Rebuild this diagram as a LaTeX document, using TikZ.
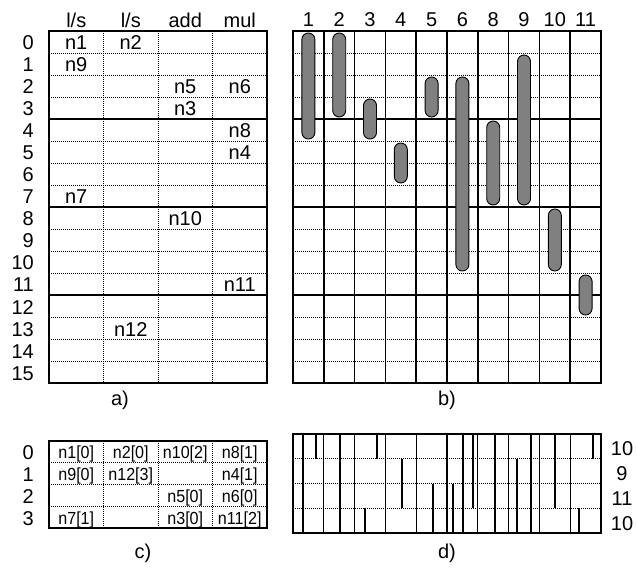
\documentclass[tikz,border=0pt]{standalone}
\usepackage{fontspec}
\setmainfont{Liberation Sans}
\newfontfamily\condfont[FakeStretch=0.92]{Liberation Sans}
\usepackage{tikz}
\usetikzlibrary{positioning}

\tikzset{
  frame/.style={line width=2.6pt},
  thick rule/.style={line width=2.4pt},
  fine rule/.style={line width=0.7pt, dash pattern=on 1.2pt off 0.8pt},
  col rule/.style={line width=1.6pt},
  reg rule/.style={line width=1.1pt},
  life/.style={draw=black, line width=0.9pt, fill=black!50, rounded corners=6.5pt},
  seg/.style={line width=2.8pt},
  lbl/.style={font=\fontsize{20}{20}\selectfont, inner sep=0pt},
  entry/.style={font=\condfont\fontsize{17.5}{17.5}\selectfont, inner sep=0pt},
}

\begin{document}
\begin{tikzpicture}[x=1pt,y=-1pt]
        % Define table parameters
        \def\rowh{22}
        \def\tabtop{31}
        \def\acolw{54.5}
        \def\bcolw{30.8}
        \def\aleft{49}
        \def\bleft{293}
        \def\ctop{441}
        \def\crowh{21.75}
        \def\dtop{434}
        \def\drowh{24.75}

        \useasboundingbox (0,0) rectangle (637,577);

        % a) schedule of the operations
        \foreach \r in {1,...,15}
            \draw[fine rule] (\aleft,\tabtop+\r*\rowh) -- ++(4*\acolw,0);
        \foreach \c in {1,2,3}
            \draw[fine rule] (\aleft+\c*\acolw,\tabtop) -- ++(0,16*\rowh);
        \foreach \r in {4,8,12}
            \draw[thick rule] (\aleft,\tabtop+\r*\rowh) -- ++(4*\acolw,0);
        \draw[frame] (\aleft,\tabtop) rectangle ++(4*\acolw,16*\rowh);

        % Add labels for the units
        \node[lbl, anchor=base] (ha-ls1) at (\aleft+0.5*\acolw,28) {l/s};
        \node[lbl, anchor=base] (ha-ls2) at (\aleft+1.5*\acolw,28) {l/s};
        \node[lbl, anchor=base] (ha-add) at (\aleft+2.5*\acolw,28) {add};
        \node[lbl, anchor=base] (ha-mul) at (\aleft+3.5*\acolw,28) {mul};

        % Add labels for the cycles
        \foreach \r in {0,...,15}
            \node[lbl, anchor=base east] (ra-\r) at (34,\tabtop+\r*\rowh+\rowh-3) {\r};

        % Place the operations in their slots
        \foreach \c/\r/\opname in {0/0/n1, 1/0/n2, 0/1/n9, 2/2/n5, 3/2/n6, 2/3/n3,
                3/4/n8, 3/5/n4, 0/7/n7, 2/8/n10, 3/11/n11, 1/13/n12}
            \node[lbl, anchor=base] (ea-\opname) at (\aleft+\c*\acolw+\acolw/2,\tabtop+\r*\rowh+\rowh-3) {\opname};

        \coordinate (a-foot) at (120,\tabtop+16*\rowh);
        \node[lbl, below=8pt of a-foot] (cap-a) {a)};

        % b) lifetimes of the values
        \foreach \r in {1,...,15}
            \draw[fine rule] (\bleft,\tabtop+\r*\rowh) -- ++(10*\bcolw,0);
        \foreach \c in {1,...,9}
            \draw[col rule] (\bleft+\c*\bcolw,\tabtop) -- ++(0,16*\rowh);
        \foreach \r in {4,8,12}
            \draw[thick rule] (\bleft,\tabtop+\r*\rowh) -- ++(10*\bcolw,0);
        \draw[frame] (\bleft,\tabtop) rectangle ++(10*\bcolw,16*\rowh);

        \foreach \v [count=\c from 0] in {1,2,3,4,5,6,8,9,10,11}
            \node[lbl, anchor=base] (hb-\v) at (\bleft+\c*\bcolw+\bcolw/2,27) {\v};

        % Bars from first to last cycle of each value
        \foreach \c/\s/\e in {0/0/4, 1/0/3, 2/3/4, 3/5/6, 4/2/3, 5/2/10,
                6/4/7, 7/1/7, 8/8/10, 9/11/12}
            \draw[life] (\bleft+\c*\bcolw+\bcolw/2-6.5,\tabtop+\s*\rowh+2)
                rectangle (\bleft+\c*\bcolw+\bcolw/2+6.5,\tabtop+\e*\rowh+\rowh-2);

        \coordinate (b-foot) at (\bleft+5*\bcolw,\tabtop+16*\rowh);
        \node[lbl, below=8pt of b-foot] (cap-b) {b)};

        % c) folded schedule
        \foreach \r in {1,2,3}
            \draw[fine rule] (\aleft,\ctop+\r*\crowh) -- ++(4*\acolw,0);
        \foreach \c in {1,2,3}
            \draw[fine rule] (\aleft+\c*\acolw,\ctop) -- ++(0,4*\crowh);
        \draw[frame] (\aleft,\ctop) rectangle ++(4*\acolw,4*\crowh);

        \foreach \r in {0,...,3}
            \node[lbl, anchor=base east] (rc-\r) at (34,\ctop+\r*\crowh+\crowh-3) {\r};

        \foreach \c/\r/\txt in {0/0/{n1[0]}, 1/0/{n2[0]}, 2/0/{n10[2]}, 3/0/{n8[1]},
                0/1/{n9[0]}, 1/1/{n12[3]}, 3/1/{n4[1]}, 2/2/{n5[0]}, 3/2/{n6[0]},
                0/3/{n7[1]}, 2/3/{n3[0]}, 3/3/{n11[2]}}
            \node[entry, anchor=base] (ec-\c-\r) at (\aleft+\c*\acolw+\acolw/2,\ctop+\r*\crowh+\crowh-4) {\txt};

        \coordinate (c-foot) at (143,\ctop+4*\crowh);
        \node[lbl, below=16pt of c-foot] (cap-c) {c)};

        % d) registers needed in each row
        \foreach \r in {1,2,3}
            \draw[fine rule] (\bleft,\dtop+\r*\drowh) -- ++(10*\bcolw,0);
        \foreach \c in {1,...,9}
            \draw[reg rule] (\bleft+\c*\bcolw,\dtop) -- ++(0,4*\drowh);
        \foreach \x/\s/\e in {303/0/3, 316/0/0, 340/0/3, 365/3/3, 377/0/0, 402/1/2,
                433/2/3, 453/2/3, 463/0/3, 473/0/2, 495/0/3, 517/1/3, 531/0/3,
                555/0/2, 579/3/3, 593/0/0}
            \draw[seg] (\x,\dtop+\s*\drowh) -- (\x,\dtop+\e*\drowh+\drowh);
        \draw[frame] (\bleft,\dtop) rectangle ++(10*\bcolw,4*\drowh);

        \foreach \v [count=\r from 0] in {10,9,11,10}
            \node[lbl, anchor=base] (rd-\r) at (622,\dtop+\r*\drowh+\drowh-3) {\v};

        \coordinate (d-foot) at (\bleft+5*\bcolw,\dtop+4*\drowh);
        \node[lbl, below=11pt of d-foot] (cap-d) {d)};

    \end{tikzpicture}
\end{document}
